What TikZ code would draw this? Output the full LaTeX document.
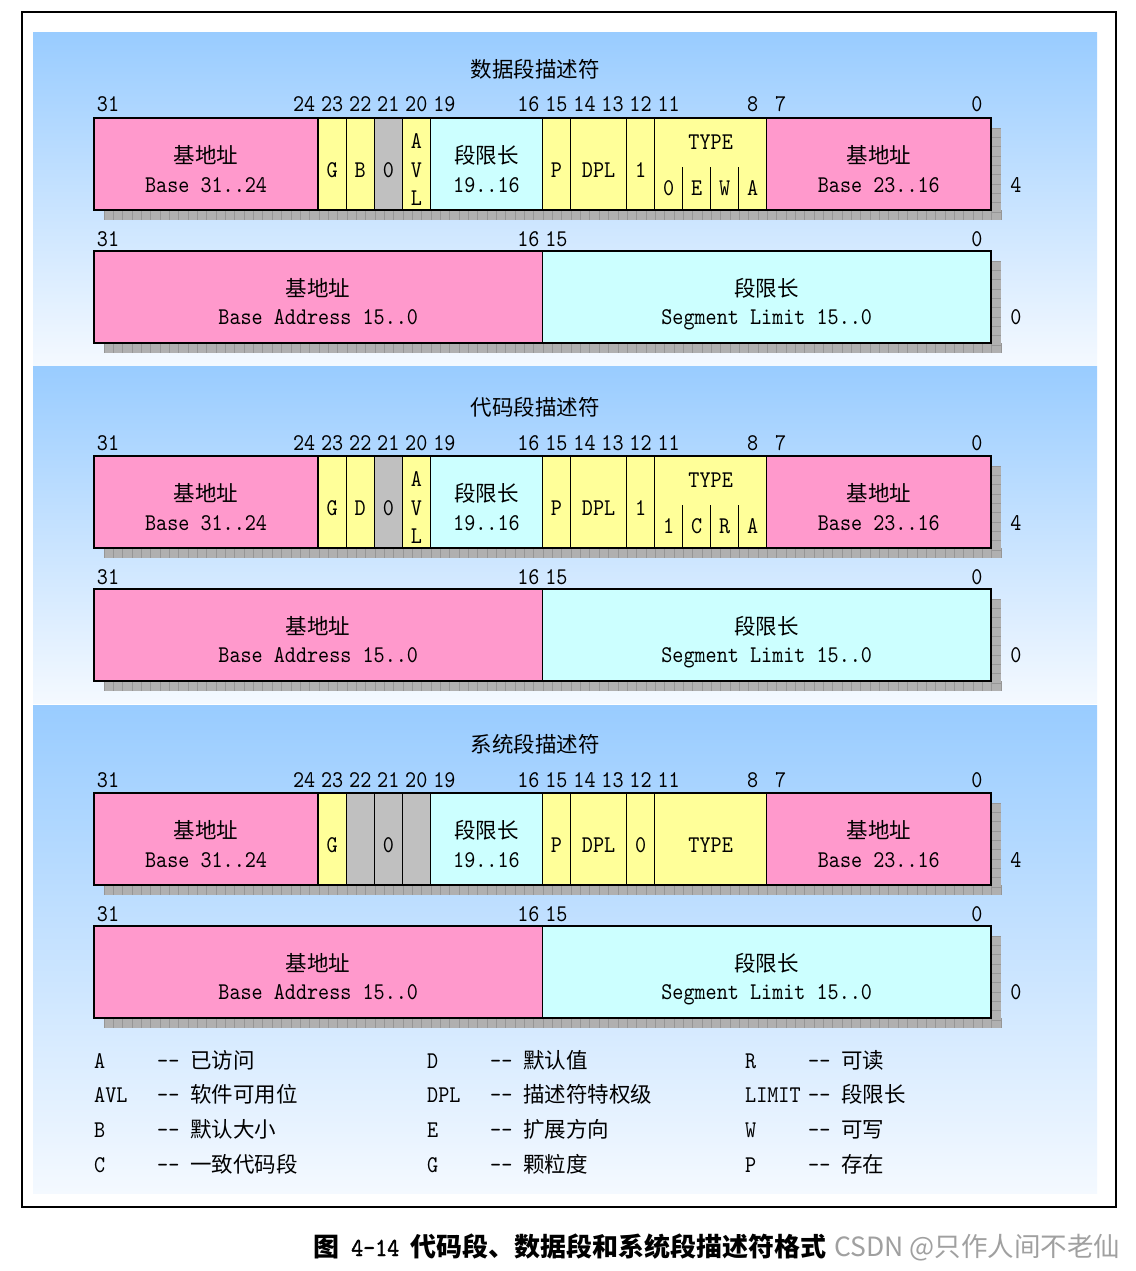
\documentclass[tikz,border=0pt]{standalone}
\usepackage{fontspec}
\usepackage{tikz}
\usetikzlibrary{positioning,calc}

\newfontfamily\cjkfnt{Noto Sans CJK SC}
\newfontfamily\monofnt{lmmono10-regular.otf}[FakeStretch=0.88]
\newfontfamily\monobf{lmmono10-regular.otf}[FakeStretch=0.88,FakeBold=1.5]
\newcommand\txtmono{\monofnt\fontsize{24}{28.5}\selectfont}
\newcommand\txtcjk{\cjkfnt\fontsize{21.5}{28.5}\selectfont}
\newcommand\capcjk{\cjkfnt\bfseries\fontsize{26}{30}\selectfont}
\newcommand\capmono{\monobf\fontsize{26}{30}\selectfont}
\newcommand\wmfont{\cjkfnt\fontsize{26.5}{30}\selectfont}
\newcommand\bitw{28.03}

\definecolor{pinkf}{RGB}{255,153,204}
\definecolor{yellowf}{RGB}{255,255,153}
\definecolor{cyanf}{RGB}{204,255,255}
\definecolor{grayf}{RGB}{192,192,192}
\definecolor{paneltop}{RGB}{153,204,255}
\definecolor{panelbot}{RGB}{244,249,255}
\definecolor{hatchfill}{RGB}{176,176,176}
\definecolor{hatchline}{RGB}{150,150,150}
\definecolor{wmgray}{RGB}{160,160,160}

\begin{document}
\begin{tikzpicture}[x=1pt, y=-1pt,
  fld/.style={draw=black, line width=1.5pt, fill=#1, minimum height=92pt,
              inner sep=0pt, outer sep=0pt, anchor=north west, font=\txtmono},
  bits/.style={minimum width={#1*\bitw*1pt}},
  onechar/.style={text height=27pt, text depth=0pt},
  cjkl/.style={font=\txtcjk, anchor=base, inner sep=0pt},
  monol/.style={font=\txtmono, anchor=base, inner sep=0pt},
  hatchbox/.style={fill=hatchfill},
  hatchln/.style={draw=hatchline, line width=0.7pt},
  panel/.style={top color=paneltop, bottom color=panelbot},
  bitno/.style={font=\txtmono, inner sep=0pt, anchor=base},
  legtxt/.style={inner sep=0pt, anchor=base west}
]

\useasboundingbox[fill=white] (0,0) rectangle (1135,1271);

% frame and panels
\draw[line width=2pt] (22,12) rectangle (1116,1207);
\shade[panel] (33,33) rectangle (1097,365);
\shade[panel] (33,366) rectangle (1097,703);
\shade[panel] (33,705) rectangle (1097,1193);

% common part of the three descriptors
\foreach \p/\B/\ttl in {d/118/数据段描述符, c/456/代码段描述符, s/793/系统段描述符} {
  \node[font=\txtcjk] (\p-ttl) at (535,\B-49) {\ttl};
  \foreach \bit in {31,24,23,22,21,20,19,16,15,14,13,12,11,8,7,0}
    \node[bitno] (\p-n\bit) at ({94+(31-\bit)*\bitw+14},\B-6) {\bit};
  \foreach \bit in {31,16,15,0}
    \node[bitno] (\p-m\bit) at ({94+(31-\bit)*\bitw+14},\B+128) {\bit};

  % shadows
  \foreach \y in {\B,\B+133} {
    \fill[hatchbox] (104,\y+10) rectangle (1001,\y+102);
    \foreach \k in {0,...,96}
      \draw[hatchln] ({104+\k*9.343},\y+92) -- ({104+\k*9.343},\y+102);
    \foreach \k in {0,...,9}
      \draw[hatchln] (991,{\y+10+\k*9.343}) -- (1001,{\y+10+\k*9.343});
  }

  % high dword
  \node[fld=pinkf, bits=8] (\p-bhi) at (94,\B) {};
  \node[cjkl] (\p-bhi-c) at ($(\p-bhi.north)+(0,45)$) {基地址};
  \node[monol] (\p-bhi-e) at ($(\p-bhi.north)+(0,74.5)$) {Base 31..24};
  \node[fld=yellowf, bits=1, onechar] (\p-g) at ({94+8*\bitw},\B) {G};
  \node[fld=grayf, bits=1, onechar] (\p-z) at ({94+10*\bitw},\B) {0};
  \node[fld=cyanf, bits=4] (\p-lhi) at ({94+12*\bitw},\B) {};
  \node[cjkl] (\p-lhi-c) at ($(\p-lhi.north)+(0,45)$) {段限长};
  \node[monol] (\p-lhi-e) at ($(\p-lhi.north)+(0,74.5)$) {19..16};
  \node[fld=yellowf, bits=1, onechar] (\p-p) at ({94+16*\bitw},\B) {P};
  \node[fld=yellowf, bits=2, onechar] (\p-dpl) at ({94+17*\bitw},\B) {DPL};
  \node[fld=pinkf, bits=8] (\p-blo) at ({94+24*\bitw},\B) {};
  \node[cjkl] (\p-blo-c) at ($(\p-blo.north)+(0,45)$) {基地址};
  \node[monol] (\p-blo-e) at ($(\p-blo.north)+(0,74.5)$) {Base 23..16};
  \node[bitno] (\p-w4) at (1016,\B+74) {4};

  % low dword
  \node[fld=pinkf, bits=16] (\p-blow) at (94,\B+133) {};
  \node[cjkl] (\p-blow-c) at ($(\p-blow.north)+(0,45)$) {基地址};
  \node[monol] (\p-blow-e) at ($(\p-blow.north)+(0,73.5)$) {Base Address 15..0};
  \node[fld=cyanf, bits=16] (\p-llow) at ({94+16*\bitw},\B+133) {};
  \node[cjkl] (\p-llow-c) at ($(\p-llow.north)+(0,45)$) {段限长};
  \node[monol] (\p-llow-e) at ($(\p-llow.north)+(0,73.5)$) {Segment Limit 15..0};
  \node[bitno] (\p-w0) at (1016,\B+206) {0};
}

% data segment
\node[fld=yellowf, bits=1, onechar] (d-b) at ({94+9*\bitw},118) {B};
\node[fld=yellowf, bits=1] (d-avl) at ({94+11*\bitw},118) {};
\foreach \l/\dy in {A/30.5, V/59.5, L/87.5}
  \node[monol] (d-avl-\l) at ($(d-avl.north)+(0,\dy)$) {\l};
\node[fld=yellowf, bits=1, onechar] (d-s) at ({94+19*\bitw},118) {1};
\node[fld=yellowf, bits=4] (d-typ) at ({94+20*\bitw},118) {};
\node[font=\txtmono] (d-tt) at ($(d-typ.north)+(0,24)$) {TYPE};
\foreach \k in {1,2,3}
  \draw[line width=1.5pt] ($(d-typ.north west)+(\k*\bitw,49)$) -- ($(d-typ.south west)+(\k*\bitw,0)$);
\foreach \l [count=\k from 0] in {0,E,W,A}
  \node[font=\txtmono] (d-t\k) at ($(d-typ.north west)+(\k*\bitw+14,70)$) {\l};

% code segment
\node[fld=yellowf, bits=1, onechar] (c-d) at ({94+9*\bitw},456) {D};
\node[fld=yellowf, bits=1] (c-avl) at ({94+11*\bitw},456) {};
\foreach \l/\dy in {A/30.5, V/59.5, L/87.5}
  \node[monol] (c-avl-\l) at ($(c-avl.north)+(0,\dy)$) {\l};
\node[fld=yellowf, bits=1, onechar] (c-s) at ({94+19*\bitw},456) {1};
\node[fld=yellowf, bits=4] (c-typ) at ({94+20*\bitw},456) {};
\node[font=\txtmono] (c-tt) at ($(c-typ.north)+(0,24)$) {TYPE};
\foreach \k in {1,2,3}
  \draw[line width=1.5pt] ($(c-typ.north west)+(\k*\bitw,49)$) -- ($(c-typ.south west)+(\k*\bitw,0)$);
\foreach \l [count=\k from 0] in {1,C,R,A}
  \node[font=\txtmono] (c-t\k) at ($(c-typ.north west)+(\k*\bitw+14,70)$) {\l};

% system segment
\node[fld=grayf, bits=1] (s-x22) at ({94+9*\bitw},793) {};
\node[fld=grayf, bits=1] (s-x20) at ({94+11*\bitw},793) {};
\node[fld=yellowf, bits=1, onechar] (s-s) at ({94+19*\bitw},793) {0};
\node[fld=yellowf, bits=4, onechar] (s-typ) at ({94+20*\bitw},793) {TYPE};

% legend
\foreach \k/\t [count=\i from 0] in {A/已访问, AVL/软件可用位, B/默认大小, C/一致代码段} {
  \node[legtxt, font=\txtmono] (la\i) at (94,{1068+\i*34.7}) {\k};
  \node[legtxt, font=\txtmono] (lad\i) at (157,{1068+\i*34.7}) {-{}-};
  \node[legtxt, font=\txtcjk] (lat\i) at (190,{1068+\i*34.7}) {\t};
}
\foreach \k/\t [count=\i from 0] in {D/默认值, DPL/描述符特权级, E/扩展方向, G/颗粒度} {
  \node[legtxt, font=\txtmono] (lb\i) at (427,{1068+\i*34.7}) {\k};
  \node[legtxt, font=\txtmono] (lbd\i) at (490,{1068+\i*34.7}) {-{}-};
  \node[legtxt, font=\txtcjk] (lbt\i) at (523,{1068+\i*34.7}) {\t};
}
\foreach \k/\t [count=\i from 0] in {R/可读, LIMIT/段限长, W/可写, P/存在} {
  \node[legtxt, font=\txtmono] (lc\i) at (745,{1068+\i*34.7}) {\k};
  \node[legtxt, font=\txtmono] (lcd\i) at (808,{1068+\i*34.7}) {-{}-};
  \node[legtxt, font=\txtcjk] (lct\i) at (841,{1068+\i*34.7}) {\t};
}

% caption
\node[legtxt] (cap) at (313,1256) {{\capcjk 图}\hspace{12pt}{\capmono 4-14}\hspace{11pt}{\capcjk 代码段、数据段和系统段描述符格式}};
\node[legtxt, text=wmgray, font=\wmfont] (wm) at (834,1256) {CSDN @只作人间不老仙};

\end{tikzpicture}
\end{document}
